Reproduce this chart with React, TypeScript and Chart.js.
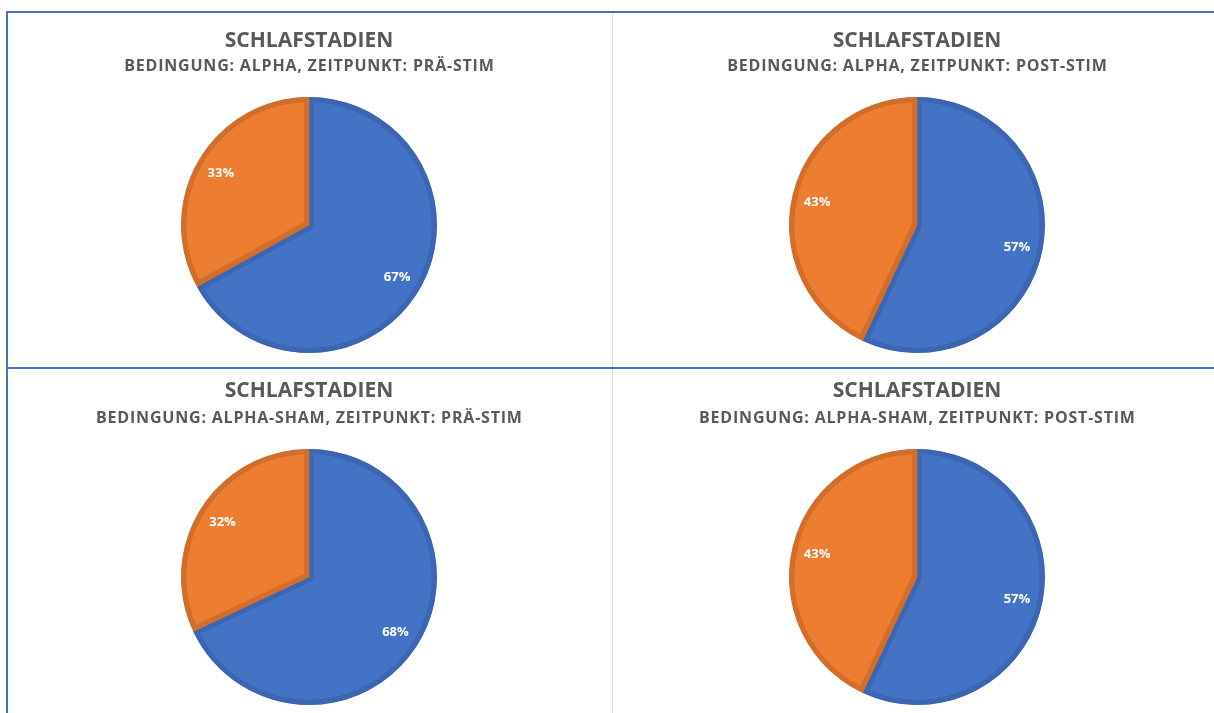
import React, { useEffect, useRef } from "react";
import { Chart, registerables } from "chart.js";

Chart.register(...registerables);

const categories = ["Schlafstadium A", "Schlafstadium B"];
const alphaPre = [67, 33];
const alphaPost = [57, 43];
const shamPre = [68, 32];
const shamPost = [57, 43];
const mainTitle = "SCHLAFSTADIEN";
const subtitles = [
  "BEDINGUNG: ALPHA, ZEITPUNKT: PRÄ-STIM",
  "BEDINGUNG: ALPHA, ZEITPUNKT: POST-STIM",
  "BEDINGUNG: ALPHA-SHAM, ZEITPUNKT: PRÄ-STIM",
  "BEDINGUNG: ALPHA-SHAM, ZEITPUNKT: POST-STIM",
];
const seriesList = [alphaPre, alphaPost, shamPre, shamPost];

const FILL = ["#4472C4", "#ED7D31"];
const BORDER = ["#3C66B2", "#D26E2B"];
const FONT = "'Open Sans', 'Liberation Sans', sans-serif";

const labelPlugin = {
  id: "pctLabels",
  afterDatasetsDraw(chart: any) {
    const ctx = chart.ctx;
    const meta = chart.getDatasetMeta(0);
    const data = chart.data.datasets[0].data as number[];
    const total = data.reduce((a, b) => a + b, 0);
    ctx.save();
    ctx.fillStyle = "#FFFFFF";
    ctx.font = `bold 13px ${FONT}`;
    ctx.textAlign = "center";
    ctx.textBaseline = "middle";
    meta.data.forEach((arc: any, i: number) => {
      const { x, y, startAngle, endAngle, outerRadius } = arc.getProps(
        ["x", "y", "startAngle", "endAngle", "outerRadius"],
        true
      );
      const mid = (startAngle + endAngle) / 2;
      const r = outerRadius * 0.8;
      const pct = Math.round((data[i] / total) * 100);
      ctx.fillText(pct + "%", x + Math.cos(mid) * r, y + Math.sin(mid) * r);
    });
    ctx.restore();
  },
};

const titlePlugin = {
  id: "titles",
  afterDraw(chart: any) {
    const o = chart.options.plugins.titles;
    const ctx = chart.ctx;
    const cx = chart.width / 2;
    ctx.save();
    ctx.fillStyle = "#595959";
    ctx.textAlign = "center";
    ctx.textBaseline = "alphabetic";
    ctx.font = `bold 21px ${FONT}`;
    (ctx as any).letterSpacing = "0px";
    ctx.fillText(o.title, cx, o.titleY);
    ctx.font = `bold 16px ${FONT}`;
    (ctx as any).letterSpacing = "0.8px";
    ctx.fillText(o.subtitle, cx + 0.4, o.subY);
    (ctx as any).letterSpacing = "0px";
    ctx.restore();
  },
};

type PieProps = {
  values: number[];
  subtitle: string;
  left: number;
  top: number;
  titleY: number;
  subY: number;
};

function PieChart({ values, subtitle, left, top, titleY, subY }: PieProps) {
  const ref = useRef<HTMLCanvasElement>(null);
  useEffect(() => {
    if (!ref.current) return;
    const chart = new Chart(ref.current, {
      type: "pie",
      data: {
        labels: categories,
        datasets: [
          {
            data: values,
            backgroundColor: FILL,
            borderColor: BORDER,
            borderWidth: 5,
            borderAlign: "inner",
          } as any,
        ],
      },
      options: {
        animation: false,
        responsive: false,
        layout: { padding: { top: 83, bottom: 13, left: 0, right: 0 } },
        plugins: {
          legend: { display: false },
          tooltip: { enabled: false },
          title: { display: false },
          titles: { title: mainTitle, subtitle, titleY, subY },
        } as any,
      },
      plugins: [labelPlugin, titlePlugin],
    });
    return () => chart.destroy();
  }, [values, subtitle, titleY, subY]);
  return (
    <canvas
      ref={ref}
      width={604}
      height={352}
      style={{ position: "absolute", left, top, width: 604, height: 352 }}
    />
  );
}

export default function App() {
  const cells = [
    { left: 7, top: 14, titleY: 33, subY: 57 },
    { left: 615, top: 14, titleY: 33, subY: 57 },
    { left: 7, top: 366, titleY: 31, subY: 57 },
    { left: 615, top: 366, titleY: 31, subY: 57 },
  ];
  return (
    <div
      style={{
        position: "absolute",
        left: 0,
        top: 0,
        width: 1214,
        height: 713,
        overflow: "hidden",
        background: "#FFFFFF",
      }}
    >
      <div style={{ position: "absolute", left: 612, top: 13, width: 1, height: 700, background: "#E3E3E3" }} />
      {cells.map((c, i) => (
        <PieChart key={i} values={seriesList[i]} subtitle={subtitles[i]} {...c} />
      ))}
      <div style={{ position: "absolute", left: 6, top: 11, width: 1208, height: 2, background: "#4472C4" }} />
      <div style={{ position: "absolute", left: 6, top: 11, width: 2, height: 702, background: "#4472C4" }} />
      <div style={{ position: "absolute", left: 6, top: 367, width: 1208, height: 2, background: "#4472C4" }} />
    </div>
  );
}
